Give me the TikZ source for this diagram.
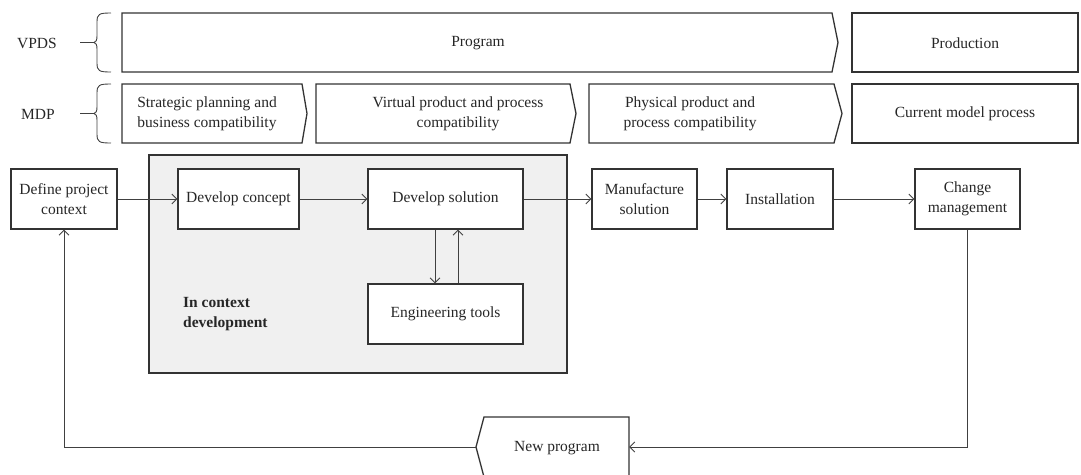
\documentclass[tikz,border=0pt]{standalone}
\usepackage{fontspec}
\setmainfont{Liberation Serif}
\usetikzlibrary{arrows.meta}
\begin{document}
\begin{tikzpicture}[x=1pt,y=-1pt,
  every node/.style={font=\fontsize{15.5}{20}\selectfont, text=black!85},
  box/.style={draw=black!80, line width=1.3pt, fill=white, minimum height=60pt,
              align=center, inner sep=2pt},
  conn/.style={draw=black!75, line width=0.8pt, -{Straight Barb[length=5pt,width=10pt]}},
  plain/.style={draw=black!75, line width=0.8pt},
  band/.style={draw=black!80, line width=1.3pt, fill=white, line join=miter},
  brc/.style={draw=black!75, line width=0.9pt},
  lbl/.style={align=center, inner sep=0pt}]
\useasboundingbox (0,0) rectangle (1081,474);
\clip (0,0) rectangle (1081,474);

% row labels and braces
\node[lbl] (vpds) at (37,43) {VPDS};
\node[lbl] (mdp) at (38,114) {MDP};
\draw[brc] (80,42.5) -- (94,42.5);
\draw[brc] (111,13) .. controls (99,13) and (97,14) .. (97,22) -- (97,36)
  .. controls (97,40) and (96,42.5) .. (94,42.5)
  .. controls (96,42.5) and (97,45) .. (97,49) -- (97,63)
  .. controls (97,71) and (99,72) .. (111,72);
\draw[brc] (80,113.5) -- (94,113.5);
\draw[brc] (111,84) .. controls (99,84) and (97,85) .. (97,93) -- (97,107)
  .. controls (97,111) and (96,113.5) .. (94,113.5)
  .. controls (96,113.5) and (97,116) .. (97,120) -- (97,134)
  .. controls (97,142) and (99,143) .. (111,143);

% VPDS band
\draw[band] (122,13) -- (832,13) -- (838,42.5) -- (832,72) -- (122,72) -- cycle;
\node[lbl] (program) at (478,43) {Program};
\draw[band] (852,13) rectangle (1078,72);
\node[lbl] (production) at (965,43) {Production};

% MDP band
\draw[band] (122,84) -- (302,84) -- (307,113.5) -- (302,143) -- (122,143) -- cycle;
\node[lbl] (strat) at (207,114) {Strategic planning and\\business compatibility};
\draw[band] (316,84) -- (570,84) -- (576,113.5) -- (570,143) -- (316,143) -- cycle;
\node[lbl] (virt) at (458,114) {Virtual product and process\\compatibility};
\draw[band] (589,84) -- (834,84) -- (842,113.5) -- (834,143) -- (589,143) -- cycle;
\node[lbl] (phys) at (690,114) {Physical product and\\process compatibility};
\draw[band] (852,84) rectangle (1078,143);
\node[lbl] (cmp) at (965,114) {Current model process};

% in context development area
\draw[draw=black!80, line width=1.3pt, fill=black!6] (149,155) rectangle (567,373);
\node[lbl, align=left, anchor=north west, font=\fontsize{15.5}{20}\selectfont\bfseries]
  (icd) at (183,297) {In context\\development};

% process boxes
\node[box, minimum width=106pt] (def) at (64,199) {Define project\\context};
\node[box, minimum width=121pt] (dc) at (238.5,199) {Develop concept};
\node[box, minimum width=155pt] (ds) at (445.5,199) {Develop solution};
\node[box, minimum width=155pt] (et) at (445.5,314) {Engineering tools};
\node[box, minimum width=105pt] (ms) at (644.5,199) {Manufacture\\solution};
\node[box, minimum width=106pt] (inst) at (780,199) {Installation};
\node[box, minimum width=105pt] (cm) at (967.5,199) {Change\\management};

% new program tag
\draw[band] (476,447) -- (484,417) -- (629,417) -- (629,477) -- (484,477) -- cycle;
\node[minimum width=153pt, minimum height=60pt, inner sep=0pt] (np) at (552.5,447) {};
\node[lbl] (nptext) at (557,448) {New program};

% connectors
\draw[conn] (def) -- (dc);
\draw[conn] (dc) -- (ds);
\draw[conn] (ds) -- (ms);
\draw[conn] (ms) -- (inst);
\draw[conn] (inst) -- (cm);
\draw[conn] ([xshift=-10.5pt]ds.south) -- ([xshift=-10.5pt]et.north);
\draw[conn] ([xshift=12.5pt]et.north) -- ([xshift=12.5pt]ds.south);
\draw[conn] (cm.south) |- (np.east);
\draw[conn] (np.west) -| (def.south);
\end{tikzpicture}
\end{document}
